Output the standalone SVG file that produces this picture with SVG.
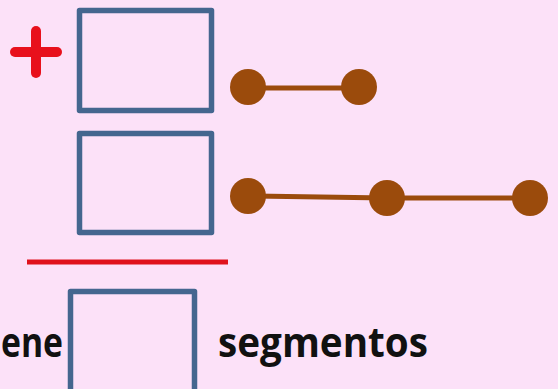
<svg xmlns="http://www.w3.org/2000/svg" width="558" height="389" viewBox="0 0 558 389">
<style>
.box{fill:none;stroke:#44668f;stroke-width:5.5;stroke-linejoin:round}
.seg{stroke:#9b4b0c;stroke-width:5}
.dot{fill:#9b4b0c}
.txt{font-family:"Open Sans","Liberation Sans",Arial,sans-serif;font-weight:bold;font-size:42px;fill:#111}
</style>
<rect width="558" height="389" fill="#fce1f8"/>
<g id="plus">
<line x1="15" y1="52" x2="57" y2="52" stroke="#e8101c" stroke-width="10" stroke-linecap="round"/>
<line x1="36" y1="31" x2="36" y2="73" stroke="#e8101c" stroke-width="10" stroke-linecap="round"/>
</g>
<g id="box1"><rect class="box" x="79.5" y="10.5" width="132" height="100"/></g>
<g id="box2"><rect class="box" x="79.5" y="133.5" width="132" height="99"/></g>
<g id="rule"><line x1="27" y1="262" x2="228" y2="262" stroke="#e0121c" stroke-width="5"/></g>
<g id="box3"><rect class="box" x="70.5" y="291.5" width="124" height="110"/></g>
<g id="connectors">
<line class="seg" x1="248" y1="88" x2="359" y2="88"/>
<line class="seg" x1="248" y1="196" x2="387" y2="198"/>
<line class="seg" x1="387" y1="198" x2="530" y2="198"/>
</g>
<g id="dots1">
<circle class="dot" cx="248" cy="87" r="18"/>
<circle class="dot" cx="359" cy="87" r="18"/>
</g>
<g id="dots2">
<circle class="dot" cx="248" cy="196" r="18"/>
<circle class="dot" cx="387" cy="198" r="18"/>
<circle class="dot" cx="530" cy="198" r="18"/>
</g>
<g id="labels">
<text class="txt" x="1" y="357" textLength="62" lengthAdjust="spacingAndGlyphs">ene</text>
<text class="txt" x="218" y="357" textLength="210" lengthAdjust="spacingAndGlyphs">segmentos</text>
</g>
</svg>
